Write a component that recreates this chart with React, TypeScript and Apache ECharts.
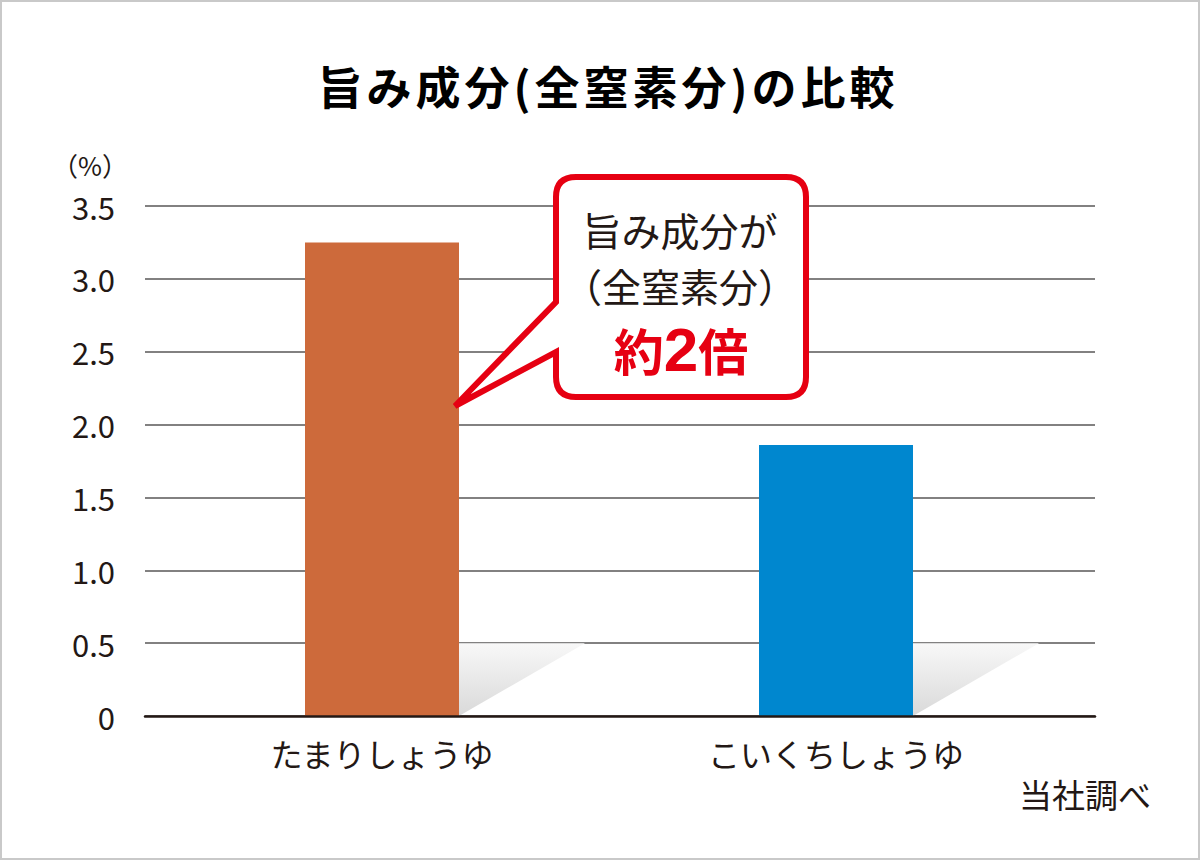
import React, { useEffect, useRef } from "react";
import * as echarts from "echarts";

const categories = ["たまりしょうゆ", "こいくちしょうゆ"];
const values = [3.25, 1.86];
const barColors = ["#cd6a3b", "#0087cf"];
const yTicks = { min: 0, max: 3.5, interval: 0.5 };
const titleText = "旨み成分(全窒素分)の比較";
const unitText = "（%）";
const sourceText = "当社調べ";
const calloutLines = ["旨み成分が", "（全窒素分）"];
const shadowTopValue = 0.5;

const FONT = '"Noto Sans CJK JP", "Noto Sans", sans-serif';
const INK = "#231815";
const RED = "#e60012";

const calloutPath =
  "M 576 177 L 786 177 Q 806 177 806 197 L 806 377 Q 806 397 786 397 L 576 397 Q 556 397 556 377 L 556 352 L 455 406 L 556 302 L 556 197 Q 556 177 576 177 Z";

let registered = false;
function ensureShape() {
  if (registered) return;
  echarts.graphic.registerShape("callout", echarts.graphic.extendPath(calloutPath, {}));
  registered = true;
}

export default function App() {
  const ref = useRef<HTMLDivElement>(null);
  useEffect(() => {
    if (!ref.current) return;
    ensureShape();
    const styleEl = document.createElement("style");
    styleEl.textContent = 'text[style*="45px"] { letter-spacing: 4px; }';
    document.head.appendChild(styleEl);
    const chart = echarts.init(ref.current, undefined, { renderer: "svg" });
    const option: any = {
      animation: false,
      backgroundColor: "#ffffff",
      grid: [
        { left: 145, right: 105, top: 206, bottom: 144 },
        { left: 155, width: 908, top: 206, bottom: 144 },
      ],
      xAxis: [
        {
          gridIndex: 0,
          type: "category",
          data: categories,
          axisLabel: { show: false },
          axisTick: { show: false },
          axisLine: { show: true, lineStyle: { color: INK, width: 2.5 } },
          z: 5,
        },
        {
          gridIndex: 1,
          type: "category",
          data: categories,
          axisLine: { show: false },
          axisTick: { show: false },
          axisLabel: { fontSize: 32, color: INK, margin: 21, fontFamily: FONT },
        },
      ],
      yAxis: [
        {
          gridIndex: 0,
          type: "value",
          min: yTicks.min,
          max: yTicks.max,
          interval: yTicks.interval,
          axisLine: { show: false },
          axisTick: { show: false },
          splitLine: { lineStyle: { color: "#595757", width: 1.5 } },
          axisLabel: {
            fontSize: 31,
            lineHeight: 30,
            color: INK,
            margin: 30,
            fontFamily: FONT,
            formatter: (v: number) => (v === 0 ? "0" : v.toFixed(1)),
          },
        },
        {
          gridIndex: 1,
          type: "value",
          min: yTicks.min,
          max: yTicks.max,
          interval: yTicks.interval,
          show: false,
        },
      ],
      series: [
        {
          type: "custom",
          xAxisIndex: 1,
          yAxisIndex: 1,
          z: 1,
          data: categories.map((_, i) => [i, shadowTopValue]),
          renderItem: (params: any, api: any) => {
            const i = api.value(0);
            const base = api.coord([i, 0]);
            const top = api.coord([i, api.value(1)]);
            const x0 = base[0] + 77;
            return {
              type: "polygon",
              shape: {
                points: [
                  [x0, base[1]],
                  [x0, top[1]],
                  [x0 + 126, top[1]],
                ],
              },
              style: {
                fill: new echarts.graphic.LinearGradient(0, 0, 0, 1, [
                  { offset: 0, color: "#f8f8f8" },
                  { offset: 1, color: "#d9d9d9" },
                ]),
              },
            };
          },
        },
        {
          type: "bar",
          xAxisIndex: 1,
          yAxisIndex: 1,
          barWidth: 154,
          z: 3,
          data: values.map((v, i) => ({ value: v, itemStyle: { color: barColors[i] } })),
        },
      ],
      graphic: [
        {
          type: "rect",
          shape: { x: 1, y: 1, width: 1198, height: 858 },
          style: { fill: "none", stroke: "#c9c9c9", lineWidth: 2 },
          z: 100,
        },
        {
          type: "text",
          x: 608,
          y: 85,
          style: {
            text: titleText,
            font: `bold 45px ${FONT}`,
            fill: "#000",
            align: "center",
            verticalAlign: "middle",
          },
        },
        {
          type: "text",
          x: 90,
          y: 164,
          style: {
            text: unitText,
            font: `26px ${FONT}`,
            lineHeight: 22,
            fill: INK,
            align: "center",
            verticalAlign: "middle",
          },
        },
        {
          type: "text",
          x: 1151,
          y: 794,
          style: {
            text: sourceText,
            font: `33px ${FONT}`,
            fill: INK,
            align: "right",
            verticalAlign: "middle",
          },
        },
        {
          type: "callout",
          x: 0,
          y: 0,
          z: 50,
          style: { fill: "#fff", stroke: RED, lineWidth: 6, lineJoin: "miter" },
        },
        {
          type: "text",
          x: 680,
          y: 229,
          z: 51,
          style: {
            text: calloutLines[0],
            font: `39px ${FONT}`,
            lineHeight: 39,
            fill: INK,
            align: "center",
            verticalAlign: "middle",
          },
        },
        {
          type: "text",
          x: 680,
          y: 285,
          z: 51,
          style: {
            text: calloutLines[1],
            font: `39px ${FONT}`,
            lineHeight: 39,
            fill: INK,
            align: "center",
            verticalAlign: "middle",
          },
        },
        {
          type: "text",
          x: 681,
          y: 349,
          z: 51,
          style: {
            text: "{a|約}{b|2}{a|倍}",
            align: "center",
            verticalAlign: "middle",
            rich: {
              a: { fontSize: 50, lineHeight: 44, fontWeight: "bold", fill: RED, color: RED, fontFamily: FONT },
              b: { fontSize: 62, lineHeight: 44, fontWeight: "bold", fill: RED, color: RED, fontFamily: "Liberation Sans, Arial, sans-serif" },
            },
          },
        },
      ],
    };
    chart.setOption(option);
    return () => {
      chart.dispose();
      styleEl.remove();
    };
  }, []);
  return (
    <div
      ref={ref}
      style={{ position: "absolute", left: 0, top: 0, width: 1200, height: 860 }}
    />
  );
}
